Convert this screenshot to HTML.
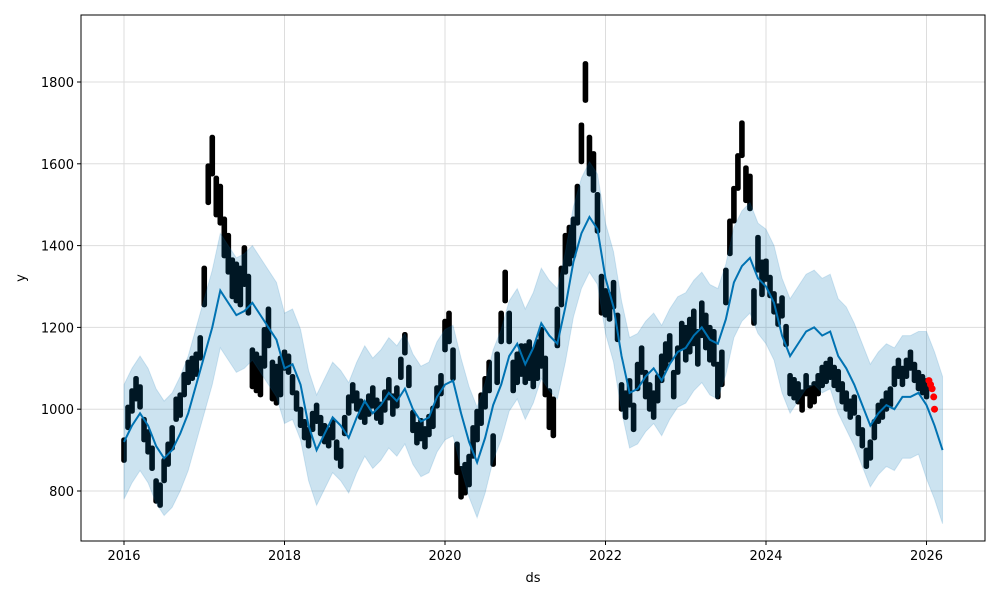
<!DOCTYPE html>
<html><head><meta charset="utf-8"><style>
body{margin:0;background:#fff;}
svg text{font-family:"DejaVu Sans","Liberation Sans",sans-serif;font-size:13px;fill:#000;}
</style></head><body>
<svg id="chart" width="1000" height="600" xmlns="http://www.w3.org/2000/svg">
<rect x="0" y="0" width="1000" height="600" fill="#fff"/>
<g id="grid"></g><g id="pts"></g><g id="band"></g><g id="line"></g><g id="recent"></g><g id="axes"></g>
</svg>
<script>
const fcStart = 2016.0, fcStep = 0.1;
const yhat = [920,960,990,960,910,880,900,940,990,1060,1130,1200,1290,1260,1230,1240,1260,1230,1200,1170,1100,1110,1060,960,900,940,980,960,930,980,1020,990,1010,1040,1020,1050,1000,970,980,1030,1060,1070,990,920,870,930,1010,1060,1130,1160,1110,1150,1210,1180,1160,1250,1360,1430,1470,1440,1320,1250,1130,1040,1050,1080,1100,1070,1110,1140,1150,1180,1200,1170,1160,1220,1310,1350,1370,1320,1300,1260,1180,1130,1160,1190,1200,1180,1190,1130,1100,1060,1010,960,990,1010,1000,1030,1030,1040,1010,960,900];
const bandHalf = [140,140,135,135,135,135,135,135,140,150,180];
const obsStart = 2016.0, obsStep = 0.05;
const obs = [900,980,1020,1050,1030,950,920,880,800,790,850,890,930,1000,1010,1060,1090,1100,1110,1150,
1300,1550,1620,1520,1500,1420,1380,1320,1310,1300,1350,1280,1100,1090,1080,1150,1200,1070,1060,1080,
1120,1110,1060,1020,980,950,930,970,990,960,940,930,950,900,880,960,1010,1040,1020,1000,
990,1010,1030,1000,990,1020,1050,1010,1030,1100,1160,1080,970,940,950,930,960,980,1030,1060,
1180,1200,1110,880,820,830,850,920,960,1000,1040,1080,900,1100,1200,1300,1200,1080,1100,1120,
1110,1120,1100,1120,1150,1080,1000,980,1200,1300,1380,1400,1420,1500,1650,1800,1620,1580,1480,1280,
1260,1250,1280,1200,1030,1010,1040,980,1080,1120,1060,1030,1010,1050,1100,1130,1150,1060,1120,1180,
1160,1180,1200,1150,1220,1190,1160,1150,1070,1100,1300,1420,1500,1580,1660,1550,1530,1250,1380,1320,
1340,1300,1260,1230,1250,1180,1060,1050,1040,1020,1060,1030,1040,1060,1080,1090,1100,1080,1070,1040,
1020,1000,1010,960,930,880,900,950,990,1000,1020,1030,1080,1100,1080,1100,1120,1090,1070,1060,1050];
const obsSpread = [50,90,40,45,70,90,60,80,45,40,40];
const recentT = [2026.03,2026.05,2026.07,2026.09,2026.1];
const recentY = [1070,1060,1050,1030,1000];
const xTicks = [2016,2018,2020,2022,2024,2026];
const yTicks = [800,1000,1200,1400,1600,1800];

const L=81,R=985,T=15,B=541;
const xs = t => 124 + (t-2016)*80.25;
const ys = v => 491 - (v-800)*0.409;
const NS="http://www.w3.org/2000/svg";
function mk(tag,parent,attrs){const e=document.createElementNS(NS,tag);for(const k in attrs)e.setAttribute(k,attrs[k]);document.getElementById(parent).appendChild(e);return e;}

xTicks.forEach(t=>{
  const g=mk('line','grid',{x1:xs(t),x2:xs(t),y1:T,y2:B,stroke:'#ddd','stroke-width':1});
  
  
  mk('line','axes',{x1:xs(t),x2:xs(t),y1:B,y2:B+4,stroke:'#000'});
  const tx=mk('text','axes',{x:xs(t),y:B+19,'text-anchor':'middle'});tx.textContent=t;
  
  
});
yTicks.forEach(v=>{
  const g=mk('line','grid',{x1:L,x2:R,y1:ys(v),y2:ys(v),stroke:'#ddd','stroke-width':1});
  
  
  mk('line','axes',{x1:L-4,x2:L,y1:ys(v),y2:ys(v),stroke:'#000'});
  const tx=mk('text','axes',{x:L-7,y:ys(v)+5,'text-anchor':'end'});tx.textContent=v;
  
  
});

let up=[],lo=[];
yhat.forEach((v,i)=>{const t=fcStart+i*fcStep;const w=bandHalf[Math.min(bandHalf.length-1,Math.floor(t-2016))];up.push(xs(t)+','+ys(v+w));lo.unshift(xs(t)+','+ys(v-w));});
const band=mk('polygon','band',{points:up.concat(lo).join(' '),fill:'#0072B2','fill-opacity':0.2,stroke:'#0072B2','stroke-opacity':0.15});



const ln=mk('polyline','line',{points:yhat.map((v,i)=>xs(fcStart+i*fcStep)+','+ys(v)).join(' '),fill:'none',stroke:'#0072B2','stroke-width':2});



obs.forEach((v,i)=>{
  const t=obsStart+i*obsStep;
  const s=obsSpread[Math.min(obsSpread.length-1,Math.floor(t-2016))];
  const x=xs(t);
  const top=ys(v+s/2), bot=ys(v-s/2);
  const c=mk('rect','pts',{x:x-2.8,y:top-2.5,width:5.6,height:(bot-top)+5,rx:2.5,fill:'#000'});
  
  
});
recentT.forEach((t,i)=>{
  const c=mk('circle','recent',{cx:xs(t),cy:ys(recentY[i]),r:3.5,fill:'#f00'});
  
  
});

const fr=mk('rect','axes',{x:L,y:T,width:R-L,height:B-T,fill:'none',stroke:'#000','stroke-width':1});


const xl=mk('text','axes',{x:533,y:582,'text-anchor':'middle'});xl.textContent='ds';


const yl=mk('text','axes',{x:25,y:278,'text-anchor':'middle',transform:'rotate(-90 25 278)'});yl.textContent='y';


</script>
</body></html>
